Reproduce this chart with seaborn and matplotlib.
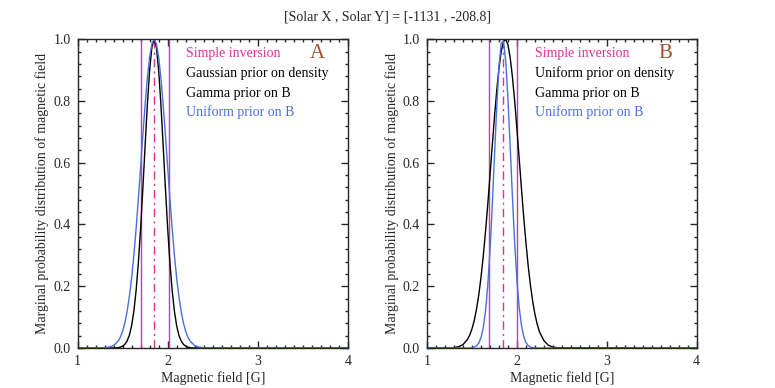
import numpy as np
import pandas as pd
import matplotlib
matplotlib.use('Agg')
import matplotlib.pyplot as plt
import seaborn as sns
from matplotlib.ticker import MultipleLocator

# Magnetic field grid [G] (denser around the peaks)
field = [1.00, 1.25, 1.30, 1.35, 1.40,
         1.450, 1.475, 1.500, 1.525, 1.550, 1.575, 1.600, 1.625, 1.650, 1.675, 1.700,
         1.725, 1.750, 1.775, 1.800, 1.825, 1.850, 1.875, 1.900, 1.925, 1.950, 1.975,
         2.000, 2.025, 2.050, 2.075, 2.100, 2.125, 2.150, 2.175, 2.200, 2.225, 2.250,
         2.30, 2.35, 2.40, 2.45, 4.00]

# Panel A
gauss_density_A = [0, 0, 0, 0, 0.0002,
                   0.001, 0.003, 0.006, 0.012, 0.023, 0.041, 0.072, 0.119, 0.186, 0.276, 0.388,
                   0.518, 0.656, 0.789, 0.900, 0.974, 1.000, 0.974, 0.900, 0.789, 0.656, 0.518,
                   0.388, 0.276, 0.186, 0.119, 0.072, 0.041, 0.023, 0.012, 0.006, 0.003, 0.001,
                   0, 0, 0, 0, 0]
uniform_B_A = [0, 0.0002, 0.001, 0.003, 0.008,
               0.022, 0.035, 0.054, 0.081, 0.118, 0.166, 0.226, 0.300, 0.386, 0.483, 0.586,
               0.690, 0.788, 0.875, 0.942, 0.985, 1.000, 0.985, 0.942, 0.875, 0.788, 0.690,
               0.586, 0.483, 0.386, 0.300, 0.226, 0.166, 0.118, 0.081, 0.054, 0.035, 0.022,
               0.008, 0.003, 0.001, 0.0002, 0]
inversion_A = [1.70, 1.85, 2.01]   # lower, best, upper

# Panel B
uniform_density_B = [0, 0, 0.001, 0.004, 0.011,
                     0.028, 0.042, 0.062, 0.089, 0.125, 0.171, 0.228, 0.296, 0.375, 0.462, 0.557,
                     0.653, 0.747, 0.833, 0.905, 0.960, 0.992, 1.000, 0.982, 0.940, 0.878, 0.800,
                     0.710, 0.614, 0.518, 0.426, 0.342, 0.267, 0.204, 0.152, 0.110, 0.078, 0.053,
                     0.024, 0.009, 0.003, 0.001, 0]
uniform_B_B = [0, 0, 0, 0, 0,
               0, 0, 0.001, 0.003, 0.007, 0.016, 0.033, 0.065, 0.118, 0.200, 0.314,
               0.457, 0.619, 0.779, 0.910, 0.987, 0.994, 0.930, 0.808, 0.652, 0.489, 0.340,
               0.220, 0.132, 0.074, 0.038, 0.018, 0.008, 0.003, 0.001, 0, 0, 0,
               0, 0, 0, 0, 0]
inversion_B = [1.69, 1.85, 2.00]

labels_A = ['Simple inversion', 'Gaussian prior on density', 'Gamma prior on B', 'Uniform prior on B']
labels_B = ['Simple inversion', 'Uniform prior on density', 'Gamma prior on B', 'Uniform prior on B']
title = '[Solar X , Solar Y] = [-1131 , -208.8]'

MAGENTA = '#e0309a'
BLUE = '#4a6ee0'
BROWN = '#a0522d'

sns.set_style('ticks')
plt.rcParams['font.family'] = ['Liberation Serif', 'DejaVu Serif']

fig = plt.figure(figsize=(7.75, 3.88), dpi=100)
ax_a = fig.add_axes([0.100, 0.103, 0.349, 0.796])
ax_b = fig.add_axes([0.551, 0.103, 0.348, 0.796])


def draw_panel(ax, black, blue, inv, labels, letter):
    df = pd.DataFrame({'field': field, 'black': black, 'blue': blue})
    for x in (inv[0], inv[2]):
        ax.axvline(x, color=MAGENTA, lw=1.0)
    ax.axvline(inv[1], color=MAGENTA, lw=1.0, ls=(0, (6, 3, 1.5, 3)))
    sns.lineplot(data=df, x='field', y='black', ax=ax, color='black', lw=1.0)
    sns.lineplot(data=df, x='field', y='blue', ax=ax, color=BLUE, lw=1.0)

    ax.set_xlim(1, 4)
    ax.set_ylim(0, 1)
    ax.xaxis.set_major_locator(MultipleLocator(1))
    ax.xaxis.set_minor_locator(MultipleLocator(0.1))
    ax.yaxis.set_major_locator(MultipleLocator(0.2))
    ax.yaxis.set_minor_locator(MultipleLocator(0.04))
    ax.yaxis.set_major_formatter(plt.FormatStrFormatter('%.1f'))
    ax.tick_params(which='both', direction='in', top=True, right=True,
                   labelsize=10, width=1.0, pad=5)
    ax.tick_params(which='major', length=5)
    ax.tick_params(which='minor', length=2.5)
    for s in ax.spines.values():
        s.set_linewidth(1.0)
    ax.set_xlabel('Magnetic field [G]', fontsize=10, labelpad=2)
    ax.set_ylabel('Marginal probability distribution of magnetic field', fontsize=10, labelpad=3)

    colors = [MAGENTA, 'black', 'black', BLUE]
    ys = [0.955, 0.890, 0.825, 0.765]
    for lab, c, y in zip(labels, colors, ys):
        ax.text(0.40, y, lab, transform=ax.transAxes, color=c, fontsize=10,
                ha='left', va='center')
    ax.text(0.885, 0.955, letter, transform=ax.transAxes, color=BROWN,
            fontsize=15, ha='center', va='center')


draw_panel(ax_a, gauss_density_A, uniform_B_A, inversion_A, labels_A, 'A')
draw_panel(ax_b, uniform_density_B, uniform_B_B, inversion_B, labels_B, 'B')

fig.text(0.5, 0.955, title, ha='center', va='center', fontsize=10)

fig.savefig('out.png', dpi=100)
